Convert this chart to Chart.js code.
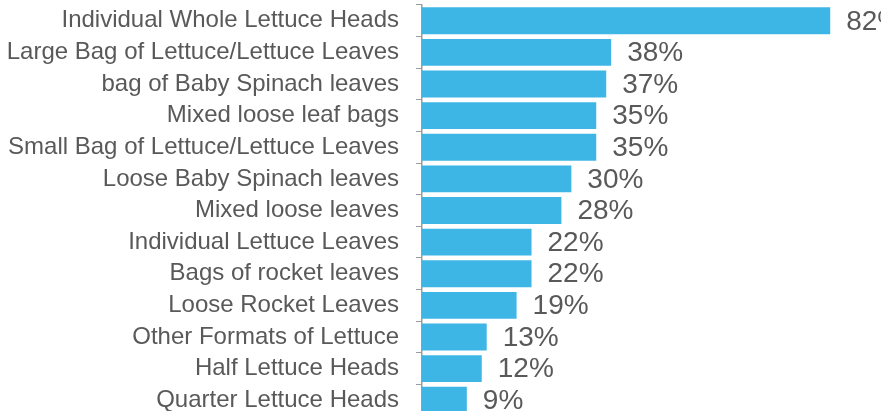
<!DOCTYPE html>
<html>
<head>
<meta charset="utf-8">
<script src="https://cdn.jsdelivr.net/npm/chart.js@4/dist/chart.umd.min.js"></script>
<style>
    html, body { margin: 0; padding: 0; background: #fff; overflow: hidden; }
    #wrap { width: 881px; height: 411px; overflow: hidden; }
    #wrap canvas { display: block; }
</style>
</head>
<body>
<div id="wrap"><canvas id="barChart" width="881" height="417"></canvas></div>
<script>
/* =========================================================
   DATA
   ========================================================= */
const categories = [
    "Individual Whole Lettuce Heads",
    "Large Bag of Lettuce/Lettuce Leaves",
    "bag of Baby Spinach leaves",
    "Mixed loose leaf bags",
    "Small Bag of Lettuce/Lettuce Leaves",
    "Loose Baby Spinach leaves",
    "Mixed loose leaves",
    "Individual Lettuce Leaves",
    "Bags of rocket leaves",
    "Loose Rocket Leaves",
    "Other Formats of Lettuce",
    "Half Lettuce Heads",
    "Quarter Lettuce Heads"
];
const shares = [82, 38, 37, 35, 35, 30, 28, 22, 22, 19, 13, 12, 9];

const FONT = "Arial, 'Liberation Sans', sans-serif";
const TEXT_GREY = "#595959";
const AXIS_GREY = "#9c9c9c";
const BAR_BLUE = "#3db6e5";

/* =========================================================
   VALUE LABELS (percent at bar end)
   ========================================================= */
const valueLabels = {
    id: "valueLabels",
    afterDatasetsDraw(chart) {
        const ctx = chart.ctx;
        const meta = chart.getDatasetMeta(0);
        ctx.save();
        ctx.font = `28px ${FONT}`;
        ctx.fillStyle = TEXT_GREY;
        ctx.textAlign = "left";
        ctx.textBaseline = "middle";
        meta.data.forEach((bar, i) => {
            ctx.fillText(`${shares[i]}%`, bar.x + 16, bar.y + 1);
        });
        ctx.restore();
    }
};

/* =========================================================
   CHART
   ========================================================= */
const ctx = document.getElementById("barChart").getContext("2d");
new Chart(ctx, {
    type: "bar",
    data: {
        labels: categories,
        datasets: [{
            data: shares,
            backgroundColor: BAR_BLUE,
            borderWidth: 0,
            categoryPercentage: 1,
            barPercentage: 0.85
        }]
    },
    options: {
        indexAxis: "y",
        responsive: false,
        animation: false,
        layout: { padding: { top: 5, bottom: 1, left: 0, right: 0 } },
        plugins: {
            legend: { display: false },
            tooltip: { enabled: false }
        },
        scales: {
            x: {
                display: false,
                min: 0,
                max: 92.2
            },
            y: {
                afterFit: (scale) => {
                    // fixed axis position, no label overhang padding
                    scale.width = 422;
                    scale.paddingTop = 0;
                    scale.paddingBottom = 0;
                },
                grid: {
                    display: true,
                    drawOnChartArea: false,
                    drawTicks: true,
                    tickLength: 6,
                    color: AXIS_GREY,
                    lineWidth: 1
                },
                border: { display: true, color: AXIS_GREY, width: 1.5 },
                ticks: {
                    color: TEXT_GREY,
                    padding: 17,
                    autoSkip: false,
                    font: { family: FONT, size: 24 }
                }
            }
        }
    },
    plugins: [valueLabels]
});
</script>
</body>
</html>
